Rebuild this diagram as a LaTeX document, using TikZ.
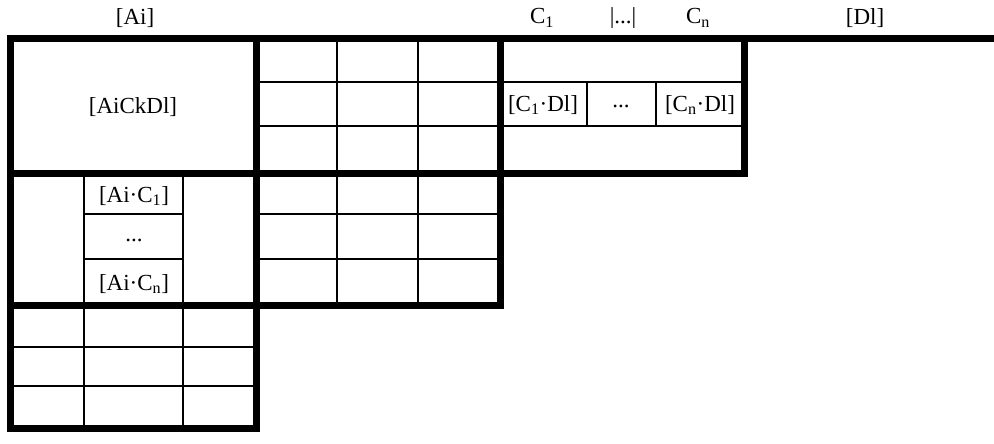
\documentclass[tikz,border=0pt]{standalone}
\usepackage{fontspec}
\setmainfont{Liberation Serif}
\begin{document}
\begin{tikzpicture}[x=1pt,y=-1pt,
  thick line/.style={line width=7pt,line join=miter},
  thin line/.style={line width=1.2pt},
  lbl/.style={inner sep=0pt,font=\fontsize{23}{27}\selectfont}]
\useasboundingbox (0,0) rectangle (994,444);
% thin inner lines
\begin{scope}[thin line]
  % top-middle block
  \draw (256,82) -- (500,82) (256,126) -- (500,126);
  \draw (337,39) -- (337,173) (418,39) -- (418,173);
  % C block
  \draw (500,82) -- (744,82) (500,126) -- (744,126);
  \draw (587,82) -- (587,126) (656,82) -- (656,126);
  % middle-left block
  \draw (84,173) -- (84,305) (183,173) -- (183,305);
  \draw (84,214) -- (183,214) (84,259) -- (183,259);
  % middle block
  \draw (256,214) -- (500,214) (256,259) -- (500,259);
  \draw (337,173) -- (337,305) (418,173) -- (418,305);
  % bottom block
  \draw (10,347) -- (256,347) (10,386) -- (256,386);
  \draw (84,305) -- (84,428) (183,305) -- (183,428);
\end{scope}
% thick block borders
\begin{scope}[thick line]
  \draw (10,39) rectangle (256,173);
  \draw (256,39) rectangle (500,173);
  \draw (500,39) rectangle (744,173);
  \draw (10,173) rectangle (256,305);
  \draw (256,173) rectangle (500,305);
  \draw (10,305) rectangle (256,428);
  \draw (744,39) -- (994,39);
\end{scope}
% header labels
\node[lbl] (ai) at (135,18) {[Ai]};
\node[lbl] (c1) at (542,18) {C\textsubscript{1}};
\node[lbl] (cdots) at (623,18) {|...|};
\node[lbl] (cn) at (698,18) {C\textsubscript{n}};
\node[lbl] (dl) at (865,18) {[Dl]};
% cell labels
\node[lbl] (aickdl) at (133,107) {[AiCkDl]};
\node[lbl] (c1dl) at (543,105) {[C\textsubscript{1}·Dl]};
\node[lbl] (cdotsdl) at (621,106) {...};
\node[lbl] (cndl) at (700,105) {[C\textsubscript{n}·Dl]};
\node[lbl] (aic1) at (134,196) {[Ai·C\textsubscript{1}]};
\node[lbl] (aicdots) at (134,240) {...};
\node[lbl] (aicn) at (134,284) {[Ai·C\textsubscript{n}]};
\end{tikzpicture}
\end{document}
